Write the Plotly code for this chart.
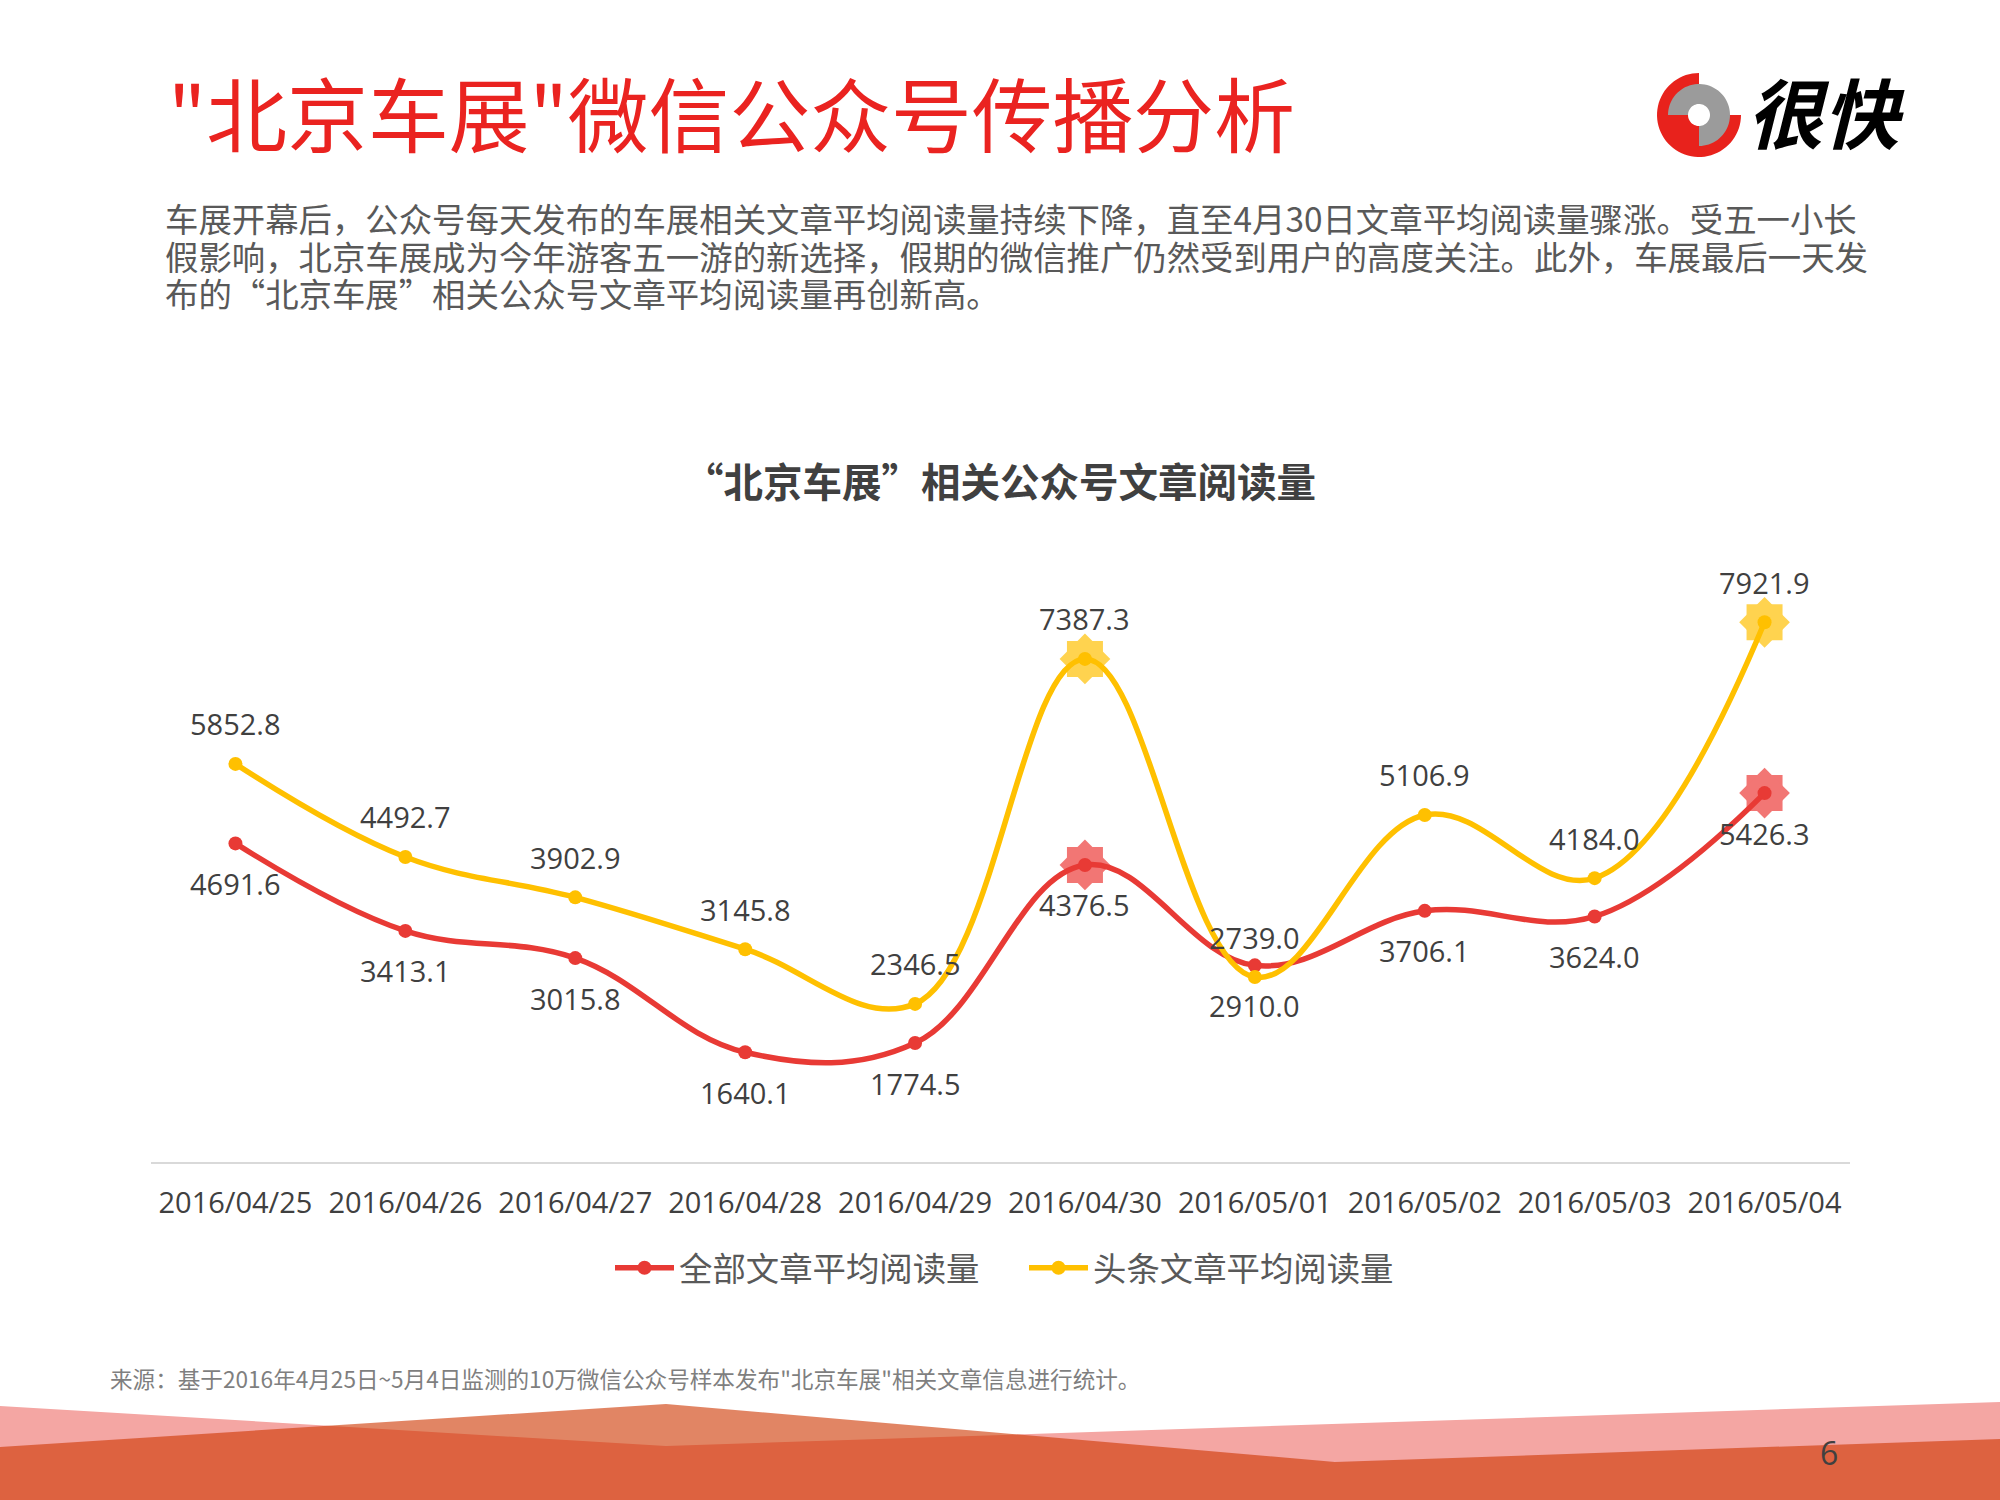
import numpy as np
import plotly.graph_objects as go

CJK = "Noto Sans CJK SC"
NUM = "Open Sans"

dates = ["2016/04/25", "2016/04/26", "2016/04/27", "2016/04/28", "2016/04/29",
         "2016/04/30", "2016/05/01", "2016/05/02", "2016/05/03", "2016/05/04"]
all_articles = [4691.6, 3413.1, 3015.8, 1640.1, 1774.5, 4376.5, 2910.0, 3706.1, 3624.0, 5426.3]
top_articles = [5852.8, 4492.7, 3902.9, 3145.8, 2346.5, 7387.3, 2739.0, 5106.9, 4184.0, 7921.9]
highlight = [5, 9]

RED = "#E83A35"
YELLOW = "#FFC000"
W, H = 2000, 1500


def px(x):
    return x / W


def py(y):
    return 1 - y / H


def poly(points):
    return "M" + "L".join(f"{px(x):.5f},{py(y):.5f}" for x, y in points) + "Z"


def sector(cx, cy, r, start, end):
    # angles in degrees, screen coordinates
    t = np.radians(np.linspace(start, end, 60))
    pts = [(cx + r * np.cos(a), cy + r * np.sin(a)) for a in t]
    return poly([(cx, cy)] + pts)


def text_at(x, y, text, size, color, anchor="left", font=CJK, **kw):
    return dict(xref="paper", yref="paper", x=px(x), y=py(y), text=text,
                showarrow=False, xanchor=anchor, yanchor="middle",
                font=dict(family=font, size=size, color=color, **kw))


fig = go.Figure()

# halos behind the two peaks
for series, tint in [(all_articles, "#F27674"), (top_articles, "#FFD34F")]:
    for symbol, size in [("square", 36), ("diamond", 39)]:
        fig.add_trace(go.Scatter(
            x=[dates[i] for i in highlight],
            y=[series[i] for i in highlight],
            mode="markers",
            marker=dict(symbol=symbol, size=size, color=tint),
            showlegend=False,
            hoverinfo="skip",
        ))

for name, series, color in [("全部文章平均阅读量", all_articles, RED),
                            ("头条文章平均阅读量", top_articles, YELLOW)]:
    fig.add_trace(go.Scatter(
        x=dates,
        y=series,
        name=name,
        mode="lines+markers",
        line=dict(color=color, width=5.5, shape="spline", smoothing=1.1),
        marker=dict(size=14, color=color),
    ))

annotations = []
for d, v in zip(dates, all_articles):
    annotations.append(dict(x=d, y=v, text=f"{v:.1f}", showarrow=False, yshift=-40,
                            font=dict(family=NUM, size=29, color="#404040")))
for d, v in zip(dates, top_articles):
    annotations.append(dict(x=d, y=v, text=f"{v:.1f}", showarrow=False, yshift=40,
                            font=dict(family=NUM, size=29, color="#404040")))

annotations += [
    text_at(166, 111, '"北京车展"微信公众号传播分析', 80.8, "#EA2320"),
    text_at(163, 218, "车展开幕后，公众号每天发布的车展相关文章平均阅读量持续下降，直至4月30日文章平均阅读量骤涨。受五一小长", 33.4, "#595959"),
    text_at(163, 256, "假影响，北京车展成为今年游客五一游的新选择，假期的微信推广仍然受到用户的高度关注。此外，车展最后一天发", 33.4, "#595959"),
    text_at(163, 292, "布的“北京车展”相关公众号文章平均阅读量再创新高。", 33.4, "#595959"),
    text_at(1000, 479, "<b>“北京车展”相关公众号文章阅读量</b>", 39.5, "#404040", anchor="center"),
    text_at(108, 1378, '来源：基于2016年4月25日~5月4日监测的10万微信公众号样本发布"北京车展"相关文章信息进行统计。', 22.6, "#7F7F7F"),
    text_at(1829, 1452, "6", 32, "#404040", anchor="center", font=NUM),
    text_at(1826, 110, "<b>很快</b>", 76, "#000000", anchor="center", style="italic"),
]

shapes = [
    dict(type="path", xref="paper", yref="paper", layer="below", line_width=0,
         fillcolor="#F4A6A3",
         path=poly([(0, 1406), (666, 1446), (2000, 1402), (2000, 1500), (0, 1500)])),
    dict(type="path", xref="paper", yref="paper", layer="below", line_width=0,
         fillcolor="rgba(206,54,0,0.607)",
         path=poly([(0, 1447), (666, 1404), (1335, 1462), (2000, 1439), (2000, 1500), (0, 1500)])),
    # logo
    dict(type="path", xref="paper", yref="paper", layer="below", line_width=0,
         fillcolor="#E8221C", path=sector(1699, 115, 42, -90, -360)),
    dict(type="path", xref="paper", yref="paper", layer="below", line_width=0,
         fillcolor="#9B9B9B", path=sector(1699, 115, 31, 180, 450)),
    dict(type="path", xref="paper", yref="paper", layer="below", line_width=0,
         fillcolor="#FFFFFF", path=sector(1699, 115, 11, 0, 360)),
]

fig.update_layout(
    width=W,
    height=H,
    margin=dict(l=0, r=0, t=0, b=0),
    paper_bgcolor="white",
    plot_bgcolor="white",
    showlegend=True,
    hovermode=False,
    legend=dict(orientation="h", x=px(610), xanchor="left", y=py(1268), yanchor="middle",
                itemwidth=59, entrywidth=340, entrywidthmode="pixels",
                font=dict(family=CJK, size=33.4, color="#595959")),
    annotations=annotations,
    shapes=shapes,
    xaxis=dict(domain=[px(150.5), px(1849.5)], type="category", categoryorder="array",
               categoryarray=dates, range=[-0.5, 9.5], showgrid=False, zeroline=False,
               anchor="free", position=py(1163),
               showline=True, linecolor="#D9D9D9", linewidth=1.5, ticks="",
               ticklabelstandoff=14, tickfont=dict(family=NUM, size=29, color="#404040")),
    yaxis=dict(domain=[py(1164.5), py(548.5)], range=[0, 9000], visible=False),
)

# the default body margin would push the page off by 8px
fig.write_html("out.html", config={"displayModeBar": False},
               post_script="document.body.style.margin='0';")
